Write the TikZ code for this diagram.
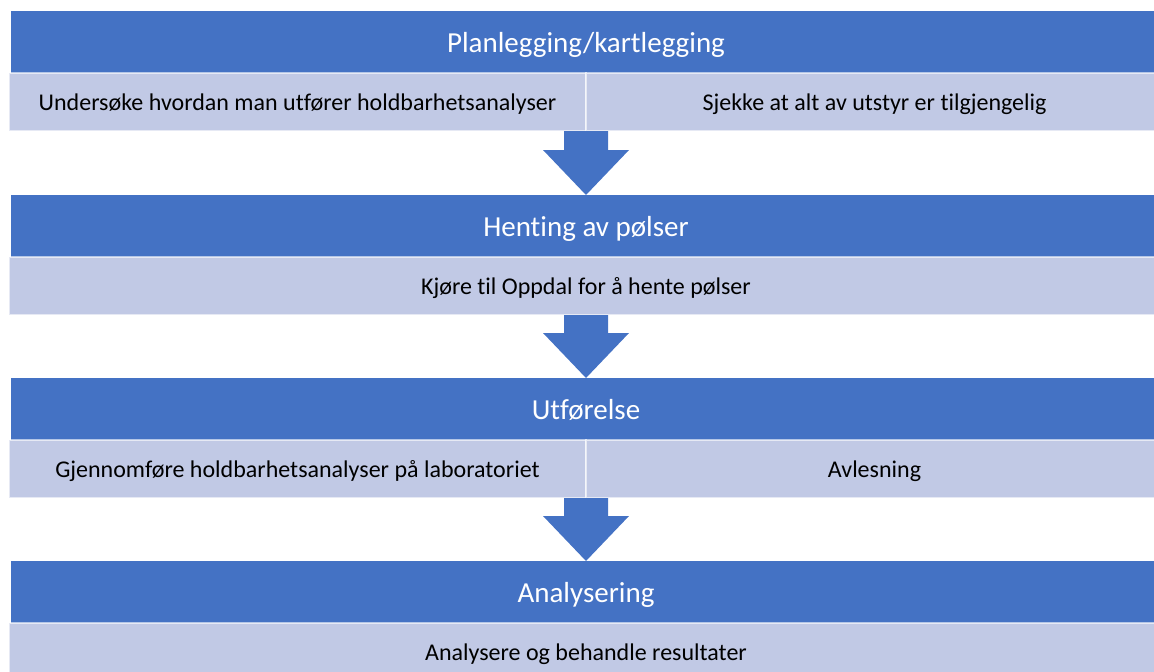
\documentclass[tikz,border=0pt]{standalone}
\usepackage{fontspec}
\setmainfont{Carlito}[Ligatures=NoCommon]
\usetikzlibrary{calc}
\definecolor{myBlue}{RGB}{68,114,196}
\definecolor{myLight}{RGB}{193,201,229}

% block arrow between two stages: #1 = top point, #2 = tip
\newcommand{\stagearrow}[2]{%
	\fill[myBlue] ($(#1)+(-22,0)$) -- ($(#1)+(22,0)$) -- ($(#2)+(22,-45)$)
		-- ($(#2)+(43,-45)$) -- (#2) -- ($(#2)+(-43,-45)$) -- ($(#2)+(-22,-45)$) -- cycle;
}

\begin{document}
\begin{tikzpicture}[%
	x=1pt, y=-1pt,
	every node/.style={inner sep=0pt, outer sep=0pt, text depth=0pt},
	phase/.style={
		fill=myBlue, text=white,
		minimum width=1150, minimum height=62,
		font=\fontsize{29}{34}\selectfont,
	},
	task/.style={
		fill=myLight, draw=white, draw opacity=0.6, line width=1.2,
		minimum height=58,
		font=\fontsize{24}{28}\selectfont,
	},
	]
	\useasboundingbox (0,0) rectangle (1154,672);
	
	% stage 1
	\node[phase] (plan) at (586,42) {Planlegging/kartlegging};
	\node[task, minimum width=577] (planA) at (297.5,102) {Undersøke hvordan man utfører holdbarhetsanalyser};
	\node[task, minimum width=577] (planB) at (874.5,102) {Sjekke at alt av utstyr er tilgjengelig};
	
	% stage 2
	\node[phase] (fetch) at (586,226) {Henting av pølser};
	\node[task, minimum width=1154] (fetchA) at (586,286) {Kjøre til Oppdal for å hente pølser};
	
	% stage 3
	\node[phase] (exec) at (586,409) {Utførelse};
	\node[task, minimum width=577] (execA) at (297.5,469) {Gjennomføre holdbarhetsanalyser på laboratoriet};
	\node[task, minimum width=577] (execB) at (874.5,469) {Avlesning};
	
	% stage 4
	\node[phase] (anal) at (586,592) {Analysering};
	\node[task, minimum width=1154] (analA) at (586,652) {Analysere og behandle resultater};
	
	% draw arrows between stages
	\stagearrow{planA.south east}{fetch.north}
	\stagearrow{fetchA.south}{exec.north}
	\stagearrow{execA.south east}{anal.north}
\end{tikzpicture}
\end{document}
